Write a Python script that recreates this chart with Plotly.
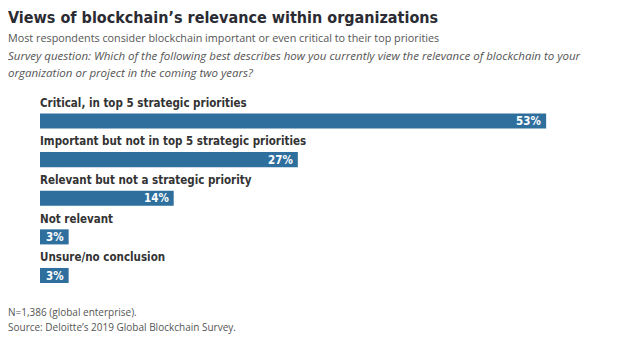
import plotly.graph_objects as go

categories = [
    "Critical, in top 5 strategic priorities",
    "Important but not in top 5 strategic priorities",
    "Relevant but not a strategic priority",
    "Not relevant",
    "Unsure/no conclusion",
]
values = [53, 27, 14, 3, 3]
value_labels = [f"{v}%" for v in values]

BAR_COLOR = "#2e6f9e"
TEXT_COLOR = "#333333"
NARROW = "DejaVu Sans Condensed"
BODY = "Open Sans, sans-serif"

positions = list(range(len(categories)))

fig = go.Figure(
    go.Bar(
        x=values,
        y=positions,
        orientation="h",
        width=0.39,
        marker=dict(color=BAR_COLOR, line=dict(width=0)),
        hoverinfo="skip",
    )
)

# category labels above each bar, value labels at the bar's right end
for pos, cat, val, lab in zip(positions, categories, values, value_labels):
    fig.add_annotation(
        x=0, y=pos - 0.47, xref="x", yref="y",
        text=cat, showarrow=False,
        xanchor="left", yanchor="middle", xshift=-2,
        font=dict(family=NARROW, size=11.5, color=TEXT_COLOR, weight="bold"),
    )
    fig.add_annotation(
        x=val, y=pos, xref="x", yref="y",
        text=lab, showarrow=False,
        xanchor="right", yanchor="middle", xshift=-3,
        font=dict(family=NARROW, size=11.5, color="white", weight="bold"),
    )

# header and footer text
header = [
    (18, "Views of blockchain’s relevance within organizations",
     dict(family=NARROW, size=16, color="#2b2b33", weight="bold")),
    (37, "Most respondents consider blockchain important or even critical to their top priorities",
     dict(family=BODY, size=10.8, color="#555555")),
    (56, "<i>Survey question: Which of the following best describes how you currently view the relevance of blockchain to your</i>",
     dict(family=BODY, size=11.5, color="#555555")),
    (72, "<i>organization or project in the coming two years?</i>",
     dict(family=BODY, size=11.5, color="#555555")),
    (312, "N=1,386 (global enterprise).",
     dict(family=BODY, size=10, color="#555555")),
    (327, "Source: Deloitte’s 2019 Global Blockchain Survey.",
     dict(family=BODY, size=10, color="#555555")),
]
for ypix, txt, fnt in header:
    fig.add_annotation(
        x=(6 - 40) / 588, y=(339 - ypix - 44) / 195,
        xref="paper", yref="paper",
        text=txt, showarrow=False, xanchor="left", yanchor="middle",
        font=fnt,
    )

fig.update_layout(
    width=628, height=339,
    margin=dict(l=40, r=0, t=100, b=44),
    paper_bgcolor="white", plot_bgcolor="white",
    showlegend=False,
    xaxis=dict(range=[0, 588 / 9.55], visible=False, fixedrange=True),
    yaxis=dict(range=[4.505, -0.544], visible=False, fixedrange=True),
)

fig.write_html("out.html")
